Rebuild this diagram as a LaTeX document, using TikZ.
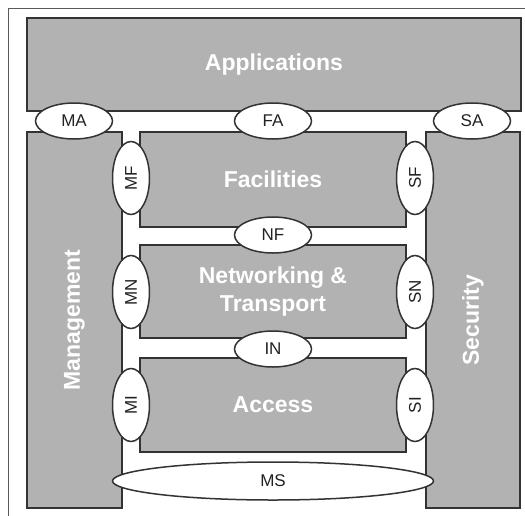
\documentclass[tikz,border=0pt]{standalone}
\usepackage{fontspec}
\setmainfont{Liberation Sans}
\usetikzlibrary{shapes.geometric}
\definecolor{boxgray}{HTML}{B2B2B2}
\definecolor{edgegray}{HTML}{333333}
\definecolor{framegray}{HTML}{5A5A5A}
\definecolor{labelgray}{HTML}{222222}
\tikzset{
  layer/.style={draw=edgegray, line width=1.7pt, fill=boxgray, rectangle, inner sep=0pt,
    text=white, font=\fontsize{23}{28}\selectfont\bfseries, align=center},
  iface/.style={draw=edgegray, line width=1.5pt, fill=white, ellipse, inner sep=0pt,
    text=labelgray, font=\fontsize{17}{20}\selectfont, minimum width=77pt, minimum height=36pt},
  vface/.style={iface, rotate=90, minimum width=73pt, minimum height=37pt}
}
\begin{document}
\begin{tikzpicture}[x=1pt,y=-1pt]
\useasboundingbox (0,0) rectangle (525,515);
\clip (0,0) rectangle (525,515);
\draw[framegray, line width=1.5pt] (8.5,8.5) rectangle (540,540);
% layers
\node[layer, minimum width=494pt, minimum height=93pt] (app) at (274,64.5) {Applications};
\node[layer, rotate=90, minimum width=376pt, minimum height=95pt] (mgmt) at (74.5,320) {Management};
\node[layer, rotate=90, minimum width=376pt, minimum height=94pt] (sec) at (473,320) {Security};
\node[layer, minimum width=266pt, minimum height=95pt] (fac) at (273,179.5) {Facilities};
\node[layer, minimum width=266pt, minimum height=93pt] (net) at (273,291.5) {Networking \&\\Transport};
\node[layer, minimum width=266pt, minimum height=94pt] (acc) at (273,405) {Access};
% interfaces
\node[iface] (ma) at (74,121) {MA};
\node[iface] (fa) at (273,121) {FA};
\node[iface] (sa) at (472,121) {SA};
\node[iface] (nf) at (273,235) {NF};
\node[iface] (in) at (273,349) {IN};
\node[vface] (mf) at (131,178) {MF};
\node[vface] (sf) at (415,178) {SF};
\node[vface] (mn) at (131,292) {MN};
\node[vface] (sn) at (415,292) {SN};
\node[vface] (mi) at (131,405) {MI};
\node[vface] (si) at (415,405) {SI};
\node[iface, minimum width=321pt, minimum height=38pt] (ms) at (273,481) {MS};
\end{tikzpicture}
\end{document}
